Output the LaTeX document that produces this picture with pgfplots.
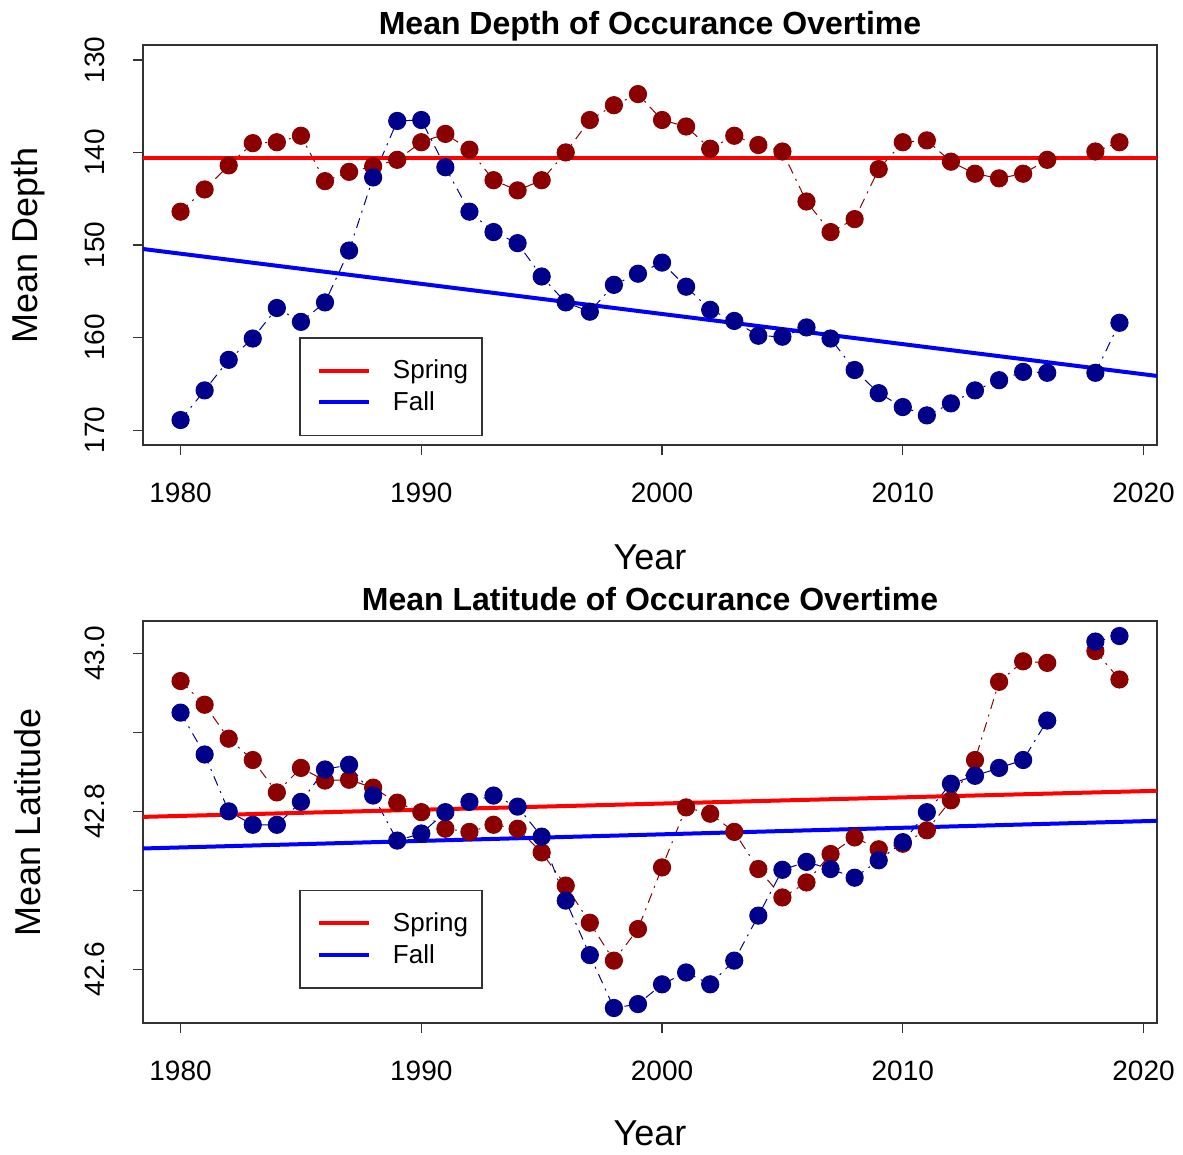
\documentclass[border=0pt]{standalone}
\usepackage{fontspec}
\setmainfont{Liberation Sans}
\usepackage{pgfplots}
\usepackage{pgfplotstable}
\pgfplotsset{compat=1.18}

\definecolor{sprdot}{RGB}{139,0,0}
\definecolor{falldot}{RGB}{0,0,139}

% year, spring depth, fall depth, spring lat, fall lat
\pgfplotstableread{
year sdep  fdep  slat   flat
1980 146.4 168.9 42.965 42.925
1981 144.0 165.7 42.935 42.872
1982 141.4 162.4 42.892 42.800
1983 139.0 160.1 42.865 42.783
1984 138.9 156.8 42.824 42.783
1985 138.2 158.3 42.855 42.812
1986 143.1 156.2 42.839 42.853
1987 142.1 150.6 42.840 42.859
1988 141.5 142.7 42.830 42.820
1989 140.8 136.6 42.811 42.763
1990 138.9 136.5 42.799 42.772
1991 138.0 141.6 42.778 42.799
1992 139.7 146.4 42.774 42.812
1993 143.0 148.6 42.783 42.820
1994 144.1 149.8 42.778 42.806
1995 143.0 153.4 42.748 42.768
1996 140.0 156.2 42.706 42.687
1997 136.5 157.2 42.659 42.618
1998 134.9 154.3 42.611 42.551
1999 133.7 153.1 42.651 42.556
2000 136.5 151.9 42.729 42.581
2001 137.2 154.5 42.805 42.596
2002 139.6 157.0 42.797 42.581
2003 138.2 158.2 42.774 42.611
2004 139.2 159.8 42.727 42.668
2005 139.9 159.9 42.691 42.726
2006 145.3 158.9 42.710 42.736
2007 148.6 160.1 42.746 42.727
2008 147.2 163.5 42.767 42.716
2009 141.8 166.0 42.752 42.738
2010 138.9 167.5 42.759 42.761
2011 138.7 168.4 42.776 42.799
2012 141.0 167.1 42.814 42.835
2013 142.3 165.7 42.865 42.845
2014 142.8 164.6 42.964 42.855
2015 142.3 163.7 42.990 42.865
2016 140.8 163.8 42.988 42.915
2017 nan   nan   nan    nan
2018 139.9 163.8 43.003 43.015
2019 138.9 158.4 42.967 43.022
}\occ

\pgfplotsset{
  rplot/.style={
    scale only axis, width=507pt,
    xmin=1978.44, xmax=2020.56,
    xtick={1980,1990,2000,2010,2020},
    tick pos=left, tick align=outside,
    major tick length=5pt,
    tick style={black!80, line width=0.7pt},
    axis line style={black!80, line width=0.8pt},
    ticklabel style={font=\fontsize{14}{16}\selectfont},
    yticklabel style={rotate=90, anchor=south},
    ticklabel shift=10.5pt,
    /pgf/number format/assume math mode=true,
    /pgf/number format/set thousands separator={},
    label style={font=\fontsize{18}{21}\selectfont},
    xlabel style={at={(axis description cs:0.5,-0.28)}, anchor=center},
    ylabel style={at={(axis description cs:-0.1134,0.5)}, anchor=center, rotate=0},
    every axis title shift=0pt,
    title style={at={(axis description cs:0.5,1)}, anchor=base, yshift=5.5pt,
      font=\bfseries\fontsize{16}{19}\selectfont},
    unbounded coords=jump,
    legend cell align=left,
    legend image code/.code={\path (-3.5pt,0pt) (34pt,0pt);
      \draw[##1, line width=2pt] (0pt,0pt) -- (25pt,0pt);},
    legend style={anchor=south west, draw=black!80, line width=0.8pt,
      font=\fontsize{13}{15}\selectfont, inner xsep=5pt, inner ysep=9pt,
      row sep=1pt},
  },
  dots/.style={line width=0.5pt, dash pattern=on 5pt off 3pt on 1pt off 3pt,
    mark=*, mark size=4.3pt, mark options={solid, draw=#1, fill=#1}, color=#1},
}

\begin{document}
\begin{tikzpicture}
\begin{axis}[rplot, name=top, anchor=north west, at={(0,0)},
  height=200pt,
  ymin=128.4, ymax=171.6, y dir=reverse,
  ytick={130,140,150,160,170},
  title={Mean Depth of Occurance Overtime},
  xlabel={Year}, ylabel={Mean Depth},
  legend style={at={(axis description cs:0.154,0.022)}},
]
\coordinate (TL) at (rel axis cs:0,1);
\addplot[dots=sprdot, forget plot] table[x=year, y=sdep] {\occ};
\addplot[dots=falldot, forget plot] table[x=year, y=fdep] {\occ};
\addplot[red, line width=2pt] coordinates {(1978.44,140.6) (2020.56,140.6)};
\addlegendentry{Spring}
\addplot[blue, line width=2pt] coordinates {(1978.44,150.43) (2020.56,164.14)};
\addlegendentry{Fall}
\end{axis}

\begin{axis}[rplot, name=bot, anchor=north west, at={(0,-288pt)},
  height=201pt,
  ymin=42.532, ymax=43.041,
  ytick={42.6,42.7,42.8,42.9,43.0},
  yticklabels={42.6,,42.8,,43.0},
  xlabel style={at={(axis description cs:0.5,-0.2736)}},
  title={Mean Latitude of Occurance Overtime},
  xlabel={Year}, ylabel={Mean Latitude},
  legend style={at={(axis description cs:0.154,0.085)}},
]
\coordinate (BR) at (rel axis cs:1,0);
\addplot[dots=sprdot, forget plot] table[x=year, y=slat] {\occ};
\addplot[dots=falldot, forget plot] table[x=year, y=flat] {\occ};
\addplot[red, line width=2pt] coordinates {(1978.44,42.793) (2020.56,42.826)};
\addlegendentry{Spring}
\addplot[blue, line width=2pt] coordinates {(1978.44,42.753) (2020.56,42.788)};
\addlegendentry{Fall}
\end{axis}

\pgfresetboundingbox
\path ([shift={(-71.5pt,22.5pt)}]TL) rectangle ([shift={(13pt,-65.5pt)}]BR);
\end{tikzpicture}
\end{document}
